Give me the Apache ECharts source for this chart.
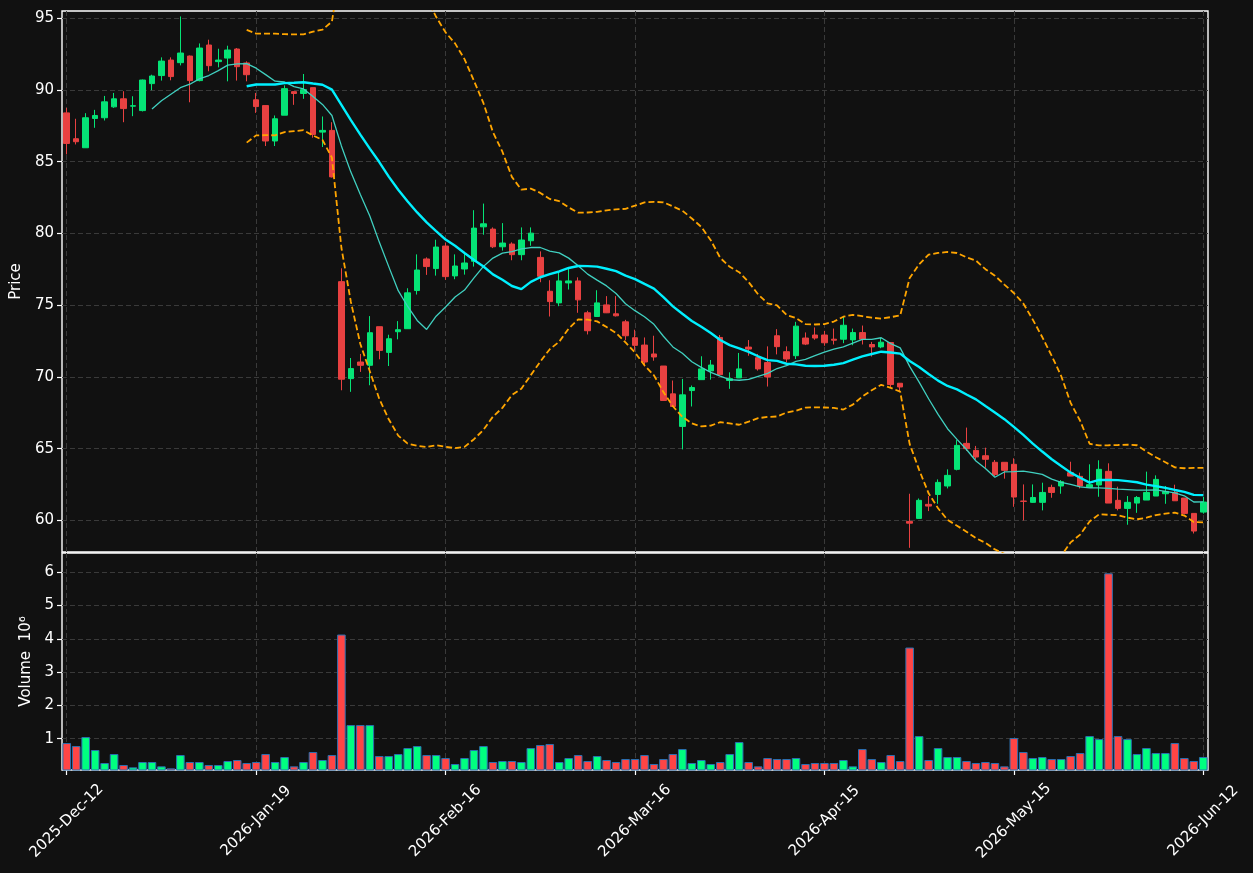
<!DOCTYPE html>
<html>
<head>
<meta charset="utf-8">
<script src="https://cdn.jsdelivr.net/npm/echarts@6/dist/echarts.min.js"></script>
<style>
html,body{margin:0;padding:0;background:#111111;}
#chart{width:1253px;height:873px;}
</style>
</head>
<body>
<div id="chart"></div>
<script>
// ---- data (prices, volume in millions) ----
const tickLabels = ['2025-Dec-12','2026-Jan-19','2026-Feb-16','2026-Mar-16','2026-Apr-15','2026-May-15','2026-Jun-12'];
const tickEvery = 20;
const priceTicks = [60, 65, 70, 75, 80, 85, 90, 95];
const volumeTicks = [1, 2, 3, 4, 5, 6];

const opens = [88.40,86.60,85.97,88.01,88.06,88.82,89.38,88.87,88.56,90.44,
  91.00,92.08,91.90,92.36,90.65,93.13,91.97,92.22,92.85,91.88,
  89.31,88.91,86.44,88.24,89.88,89.75,90.16,87.06,87.18,76.64,
  69.88,71.04,70.81,73.50,71.71,73.15,73.36,76.02,78.22,77.55,
  79.12,77.04,77.52,78.06,80.46,80.30,79.07,79.26,78.52,79.49,
  78.33,75.97,75.16,76.55,76.69,74.47,74.21,75.02,74.40,73.84,
  72.73,72.22,71.60,70.76,68.82,66.55,69.05,69.81,70.42,72.75,
  69.75,69.93,72.08,71.34,71.00,72.87,71.76,71.48,72.71,72.92,
  72.92,72.63,72.63,72.58,73.09,72.26,72.09,72.40,69.56,59.93,
  60.14,61.12,61.81,62.40,63.56,65.37,64.88,64.51,64.05,64.05,
  63.91,61.35,61.26,61.26,62.30,62.40,63.33,63.07,62.30,62.47,
  63.42,61.40,60.84,61.21,61.42,61.70,61.86,61.95,61.56,60.49,
  60.58];
const closes = [86.27,86.39,88.06,88.22,89.17,89.38,88.70,88.90,90.69,90.97,
  92.01,90.93,92.57,90.65,92.92,91.69,92.08,92.78,91.62,91.06,
  88.84,86.44,87.99,90.09,89.75,90.02,86.90,87.18,83.94,69.84,
  70.58,70.81,73.08,71.85,72.66,73.29,75.86,77.45,77.69,79.05,
  76.99,77.73,77.94,80.37,80.67,79.07,79.33,78.52,79.54,80.02,
  77.01,75.25,76.69,76.69,75.37,73.22,75.16,74.47,74.26,72.87,
  72.20,71.04,71.39,68.36,67.94,68.75,69.26,70.56,70.83,70.16,
  69.88,70.56,71.94,70.56,70.00,72.11,71.25,73.54,72.29,72.71,
  72.38,72.56,73.60,73.09,72.63,72.09,72.42,69.47,69.30,59.81,
  61.40,61.00,62.65,63.14,65.23,65.00,64.42,64.26,63.19,63.49,
  61.63,61.33,61.60,61.95,61.95,62.70,63.09,62.40,62.49,63.56,
  61.21,60.84,61.26,61.60,61.95,62.86,62.02,61.37,60.49,59.26,
  61.28];
const lows = [85.51,86.20,85.97,87.36,87.87,88.75,87.75,88.17,88.50,89.98,
  90.65,90.67,91.71,89.14,90.60,91.30,91.57,90.60,90.65,90.60,
  88.40,86.09,86.09,88.24,88.96,89.38,86.67,86.02,83.90,69.07,
  68.96,70.35,69.42,71.23,70.76,72.62,73.36,75.74,77.11,77.06,
  76.76,76.81,77.13,77.69,79.91,78.98,78.80,78.13,78.13,79.14,
  76.60,74.21,74.93,76.09,74.47,72.96,74.21,74.45,74.21,72.55,
  71.85,70.74,71.13,68.36,67.94,64.95,67.94,69.81,69.81,70.16,
  69.17,69.93,71.48,70.44,69.33,71.57,71.02,71.25,72.22,72.59,
  72.17,72.26,72.35,72.21,72.26,71.42,72.00,69.30,69.02,58.09,
  60.14,60.65,61.16,62.23,63.49,64.84,64.26,63.67,63.09,62.91,
  60.95,60.00,61.23,60.70,61.58,61.86,63.09,62.23,62.30,61.65,
  61.21,60.70,59.70,60.53,61.42,61.70,61.16,61.37,60.42,59.09,
  60.47];
const highs = [88.75,87.99,88.38,88.61,89.58,89.79,89.91,89.56,90.72,91.06,
  92.27,92.27,95.12,92.40,93.24,93.50,92.87,93.08,92.92,91.99,
  89.79,88.91,88.22,90.32,89.90,91.11,90.16,88.15,87.75,77.57,
  71.32,71.60,74.24,73.50,72.94,73.89,76.18,78.54,78.33,79.56,
  79.37,78.54,78.56,81.62,82.08,80.42,80.72,79.38,80.42,80.42,
  78.75,76.74,77.36,77.64,76.94,74.61,76.04,75.63,75.63,73.98,
  73.29,72.75,72.87,70.76,69.75,69.86,69.40,71.44,71.18,72.92,
  70.32,71.67,72.57,71.60,72.13,73.33,72.13,73.84,73.10,73.45,
  73.21,73.37,74.19,73.37,73.58,72.44,72.72,72.40,69.56,61.86,
  61.53,61.70,62.86,63.56,65.60,66.47,65.19,65.07,64.21,64.05,
  64.33,62.51,62.51,62.63,62.49,62.81,64.09,63.33,63.91,64.19,
  63.98,62.35,61.70,61.70,63.40,63.14,62.40,62.49,61.56,60.49,
  61.65];
const volumes = [0.87,0.78,1.05,0.66,0.27,0.54,0.21,0.14,0.30,0.30,
  0.17,0.11,0.51,0.30,0.30,0.21,0.21,0.33,0.36,0.27,
  0.30,0.54,0.30,0.45,0.17,0.30,0.60,0.36,0.51,4.13,
  1.41,1.41,1.41,0.48,0.48,0.54,0.72,0.78,0.51,0.51,
  0.42,0.24,0.42,0.66,0.78,0.30,0.33,0.33,0.30,0.72,
  0.81,0.84,0.30,0.42,0.51,0.33,0.48,0.36,0.30,0.39,
  0.39,0.51,0.24,0.39,0.54,0.69,0.27,0.36,0.24,0.30,
  0.54,0.90,0.30,0.17,0.42,0.39,0.39,0.42,0.24,0.27,
  0.27,0.27,0.36,0.17,0.69,0.39,0.30,0.51,0.33,3.74,
  1.08,0.36,0.72,0.45,0.45,0.33,0.27,0.30,0.27,0.17,
  1.02,0.60,0.42,0.45,0.39,0.39,0.48,0.57,1.08,0.99,
  5.97,1.08,0.99,0.54,0.72,0.57,0.57,0.87,0.42,0.33,
  0.45];

// ---- indicators (as in the original chart: moving averages and 20-day Bollinger bands of the closes) ----
function rollingMean(arr, n) {
  return arr.map((_, i) => {
    if (i < n - 1) return null;
    let s = 0;
    for (let k = i - n + 1; k <= i; k++) s += arr[k];
    return +(s / n).toFixed(3);
  });
}
function rollingBand(arr, n, m, sign) {
  return arr.map((_, i) => {
    if (i < n - 1) return null;
    let s = 0;
    for (let k = i - n + 1; k <= i; k++) s += arr[k];
    const mean = s / n;
    let v = 0;
    for (let k = i - n + 1; k <= i; k++) v += (arr[k] - mean) * (arr[k] - mean);
    return +(mean + sign * m * Math.sqrt(v / n)).toFixed(3);
  });
}
const ma10 = rollingMean(closes, 10);
const ma20 = rollingMean(closes, 20);
const bbUpper = rollingBand(closes, 20, 2, 1);
const bbLower = rollingBand(closes, 20, 2, -1);

const categories = closes.map((_, i) => String(i));
const candleData = closes.map((c, i) => [opens[i], c, lows[i], highs[i]]);

const UP = '#05e476', DOWN = '#e84141';
const UP_V = '#00ff80', DOWN_V = '#ff4545';
const volumeData = volumes.map((v, i) => ({
  value: v,
  itemStyle: { color: closes[i] >= opens[i] ? UP_V : DOWN_V }
}));

const FONT = 'DejaVu Sans';
const FS = 15;
const gridLine = { show: true, lineStyle: { color: '#3a3a3a', width: 1, type: [5, 3] } };

const chart = echarts.init(document.getElementById('chart'), null, { renderer: 'canvas' });
chart.setOption({
  backgroundColor: '#111111',
  animation: false,
  textStyle: { fontFamily: FONT },
  grid: [
    { left: 62, right: 45, top: 11, height: 541, show: true, backgroundColor: 'transparent', borderColor: '#ffffff', borderWidth: 1.4 },
    { left: 62, right: 45, top: 553, height: 217, show: true, backgroundColor: 'transparent', borderColor: '#ffffff', borderWidth: 1.4 }
  ],
  xAxis: [
    {
      type: 'category', gridIndex: 0, data: categories, boundaryGap: true,
      axisLine: { show: false }, axisTick: { show: false }, axisLabel: { show: false },
      splitLine: Object.assign({ interval: tickEvery - 1, alignWithLabel: true }, gridLine)
    },
    {
      type: 'category', gridIndex: 1, data: categories, boundaryGap: true,
      axisLine: { show: false },
      axisTick: { show: true, interval: tickEvery - 1, alignWithLabel: true, length: 5, lineStyle: { color: '#ffffff', width: 1.2 } },
      axisLabel: {
        show: true, interval: tickEvery - 1, rotate: 45, align: 'center', verticalAlign: 'middle',
        margin: 51, color: '#ffffff', fontSize: FS, fontFamily: FONT,
        formatter: (v, idx) => (idx % tickEvery === 0 ? tickLabels[idx / tickEvery] : '')
      },
      splitLine: Object.assign({ interval: tickEvery - 1, alignWithLabel: true }, gridLine)
    }
  ],
  yAxis: [
    {
      type: 'value', gridIndex: 0, min: 57.8, max: 95.5, splitNumber: 8, scale: true,
      axisLine: { show: false },
      axisTick: { show: true, length: 5, customValues: priceTicks, lineStyle: { color: '#ffffff', width: 1.2 } },
      axisLabel: { color: '#ffffff', fontSize: FS, fontFamily: FONT, margin: 8, customValues: priceTicks },
      splitLine: gridLine,
      name: 'Price', nameLocation: 'middle', nameGap: 33,
      nameTextStyle: { color: '#ffffff', fontSize: FS, fontFamily: FONT }
    },
    {
      type: 'value', gridIndex: 1, min: 0.06, max: 6.58, splitNumber: 7, scale: true,
      axisLine: { show: false },
      axisTick: { show: true, length: 5, customValues: volumeTicks, lineStyle: { color: '#ffffff', width: 1.2 } },
      axisLabel: { color: '#ffffff', fontSize: FS, fontFamily: FONT, margin: 8, customValues: volumeTicks },
      splitLine: gridLine,
      name: 'Volume  10\u2076', nameLocation: 'middle', nameGap: 28,
      nameTextStyle: { color: '#ffffff', fontSize: FS, fontFamily: FONT }
    }
  ],
  series: [
    {
      name: 'OHLC', type: 'candlestick', xAxisIndex: 0, yAxisIndex: 0, data: candleData,
      barWidth: 6,
      itemStyle: { color: UP, color0: DOWN, borderColor: UP, borderColor0: DOWN, borderWidth: 1 }
    },
    {
      name: 'MA10', type: 'line', xAxisIndex: 0, yAxisIndex: 0, data: ma10,
      showSymbol: false, smooth: false, lineStyle: { color: '#40d0c0', width: 1.3 }, z: 3
    },
    {
      name: 'MA20', type: 'line', xAxisIndex: 0, yAxisIndex: 0, data: ma20,
      showSymbol: false, lineStyle: { color: '#00f0ff', width: 2.4 }, z: 3
    },
    {
      name: 'BB upper', type: 'line', xAxisIndex: 0, yAxisIndex: 0, data: bbUpper,
      showSymbol: false, lineStyle: { color: '#ffa500', width: 1.8, type: [6, 3] }, z: 3
    },
    {
      name: 'BB lower', type: 'line', xAxisIndex: 0, yAxisIndex: 0, data: bbLower,
      showSymbol: false, lineStyle: { color: '#ffa500', width: 1.8, type: [6, 3] }, z: 3
    },
    {
      name: 'Volume', type: 'bar', xAxisIndex: 1, yAxisIndex: 1, data: volumeData,
      barWidth: 8.6, itemStyle: { borderColor: '#2a6fb0', borderWidth: 1 }
    }
  ]
});
</script>
</body>
</html>
